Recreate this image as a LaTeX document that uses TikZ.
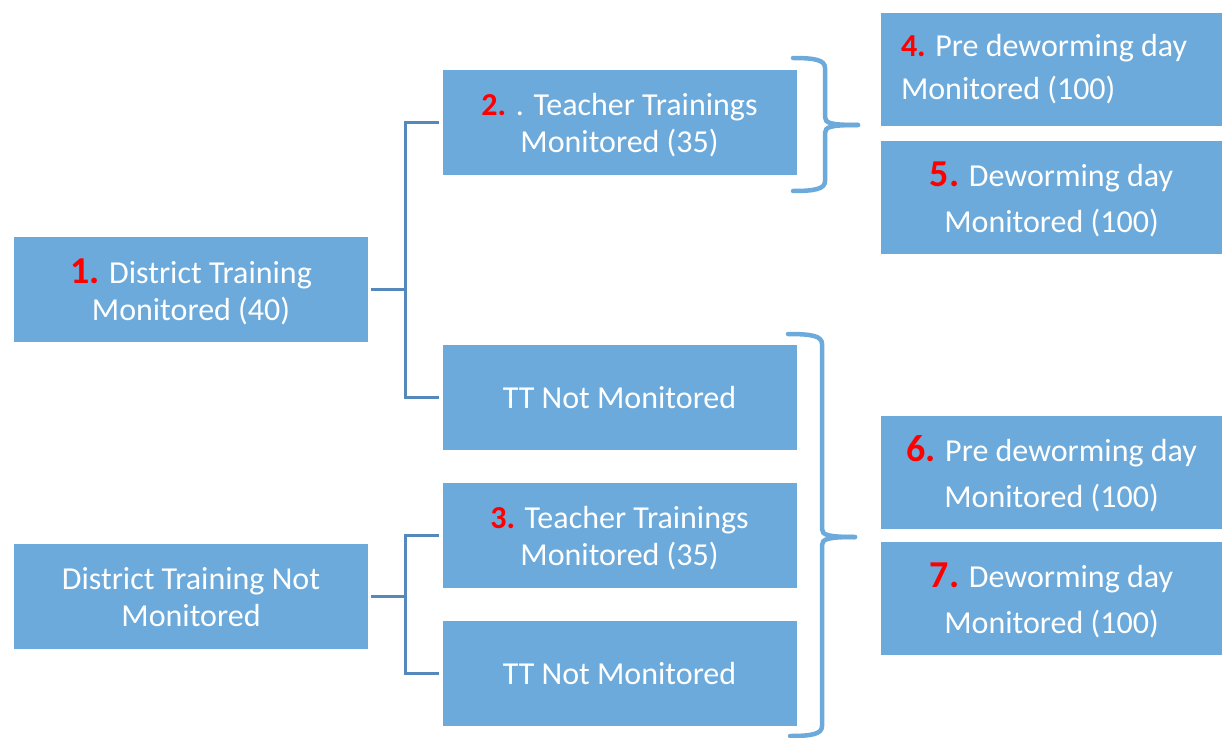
\documentclass[tikz,border=0pt]{standalone}
\usepackage{fontspec}
\setmainfont{Carlito}
\definecolor{boxblue}{RGB}{108,170,219}
\definecolor{linkblue}{RGB}{86,137,187}
\definecolor{numred}{RGB}{255,0,0}
\newcommand{\nr}[1]{{\color{numred}\bfseries #1}}
\newcommand{\bignr}[1]{{\fontsize{38}{38}\selectfont\color{numred}\bfseries #1}}

\begin{document}
\begin{tikzpicture}[x=1pt, y=-1pt,
          box/.style={rectangle, fill=boxblue, text=white, align=center,
              inner sep=0pt, minimum width=354pt, minimum height=105pt,
              text depth=0pt, font=\fontsize{32}{37}\selectfont},
          rbox/.style={box, minimum width=341pt, minimum height=113pt,
              font=\fontsize{32}{46}\selectfont},
          link/.style={linkblue, line width=3pt, shorten <=3pt, shorten >=3pt},
          brace/.style={boxblue, line width=4.5pt, line cap=round}
        ]
        \useasboundingbox (0,0) rectangle (1222,738);
        \node[box] (dt)    at (191,289.5)  {\bignr{1.} District Training\\Monitored (40)};
        \node[box] (dtno)  at (191,596.5)  {District Training Not\\Monitored};
        \node[box] (tt)    at (619.5,122.5) {\nr{2.} . Teacher Trainings\\Monitored (35)};
        \node[box] (ttno)  at (619.5,397.5) {TT Not Monitored};
        \node[box] (ttb)   at (619.5,535.5) {\nr{3.} Teacher Trainings\\Monitored (35)};
        \node[box] (ttbno) at (619.5,673.5) {TT Not Monitored};
        \node[rbox, align=flush left, text width=301pt, text depth=,
              font=\fontsize{32}{43}\selectfont]
              (pre)  at (1051.5,69.5)  {\nr{4.} Pre deworming day\\Monitored (100)};
        \node[rbox] (dw)   at (1051.5,197.5) {\bignr{5.} Deworming day\\Monitored (100)};
        \node[rbox] (preb) at (1051.5,472)   {\bignr{6.} Pre deworming day\\Monitored (100)};
        \node[rbox] (dwb)  at (1051.5,598)   {\bignr{7.} Deworming day\\Monitored (100)};
        \draw[link] (dt.east)   -- +(37,0) |- (tt.west);
        \draw[link] (dt.east)   -- +(37,0) |- (ttno.west);
        \draw[link] (dtno.east) -- +(37,0) |- (ttb.west);
        \draw[link] (dtno.east) -- +(37,0) |- (ttbno.west);
        \draw[brace] (793,58) .. controls (815,58) and (825,60) .. (825,68) -- (825,117)
              .. controls (825,123) and (830,125) .. (858,125);
        \draw[brace] (793,191) .. controls (815,191) and (825,189) .. (825,181) -- (825,133)
              .. controls (825,127) and (830,125) .. (858,125);
        \draw[brace] (788,334) .. controls (812,334) and (822,336) .. (822,344) -- (822,529)
              .. controls (822,535) and (828,537) .. (855,537);
        \draw[brace] (790,736) .. controls (812,736) and (822,734) .. (822,726) -- (822,545)
              .. controls (822,539) and (828,537) .. (855,537);
      \end{tikzpicture}
\end{document}
